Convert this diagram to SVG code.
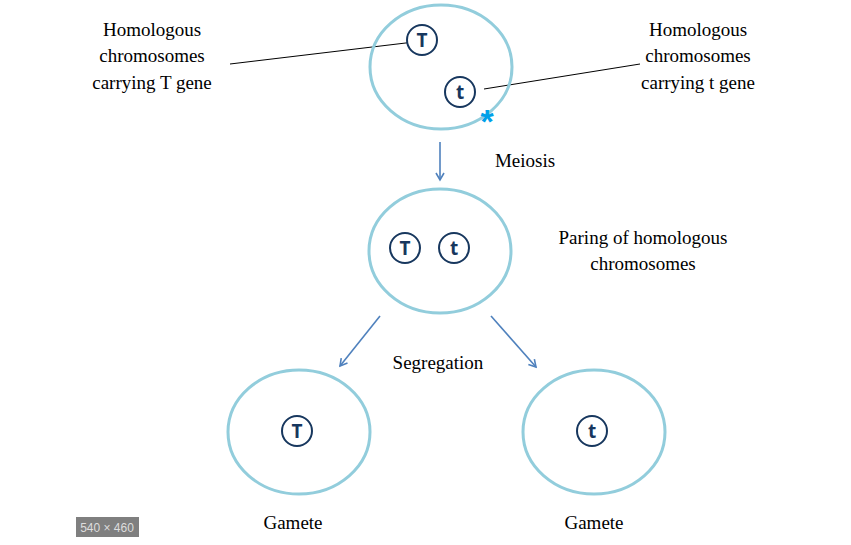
<svg xmlns="http://www.w3.org/2000/svg" width="851" height="545" viewBox="0 0 851 545">
<style>
.cell{fill:none;stroke:#92cddc;stroke-width:3}
.g{fill:#fff;stroke:#17375e;stroke-width:2}
.gl{font-family:"Open Sans","Liberation Sans",sans-serif;font-size:19px;font-weight:bold;fill:#17375e;text-anchor:middle}
.lb{font-family:"Liberation Serif",serif;font-size:19px;fill:#000;text-anchor:middle}
.ar{stroke:#4f81bd;stroke-width:1.6;fill:none}
</style>
<defs><marker id="a" markerWidth="10" markerHeight="10" refX="8" refY="5" orient="auto" markerUnits="userSpaceOnUse"><path d="M1,1 L8,5 L1,9" fill="none" stroke="#4f81bd" stroke-width="1.6"/></marker></defs>
<rect width="851" height="545" fill="#fff"/>
<g id="connectors">
<line x1="230" y1="64" x2="414" y2="42" stroke="#000" stroke-width="1"/>
<line x1="484" y1="89" x2="640" y2="64" stroke="#000" stroke-width="1"/>
<line class="ar" x1="440" y1="142" x2="440" y2="180" marker-end="url(#a)"/>
<line class="ar" x1="380" y1="316" x2="340" y2="366" marker-end="url(#a)"/>
<line class="ar" x1="491" y1="316" x2="536" y2="367" marker-end="url(#a)"/>
</g>
<g id="top"><ellipse class="cell" cx="441" cy="67" rx="71" ry="62"/>
<circle class="g" cx="422" cy="40" r="15"/><text class="gl" x="422" y="47">T</text>
<circle class="g" cx="460" cy="92" r="15"/><text class="gl" x="460" y="99">t</text>
<text x="487" y="133" font-family="Liberation Sans,sans-serif" font-size="34" font-weight="bold" fill="#00a0e9" text-anchor="middle">*</text></g>
<g id="labelT"><text class="lb" x="152" y="36">Homologous</text><text class="lb" x="152" y="62">chromosomes</text><text class="lb" x="152" y="89">carrying T gene</text></g>
<g id="labelt"><text class="lb" x="698" y="36">Homologous</text><text class="lb" x="698" y="62">chromosomes</text><text class="lb" x="698" y="89">carrying t gene</text></g>
<text class="lb" x="525" y="167">Meiosis</text>
<g id="mid"><ellipse class="cell" cx="440" cy="251" rx="71" ry="62"/>
<circle class="g" cx="405" cy="248" r="15"/><text class="gl" x="405" y="255">T</text>
<circle class="g" cx="454" cy="248" r="15"/><text class="gl" x="454" y="255">t</text></g>
<g id="labelP"><text class="lb" x="643" y="244">Paring of homologous</text><text class="lb" x="643" y="270">chromosomes</text></g>
<text class="lb" x="438" y="369">Segregation</text>
<g id="g1"><ellipse class="cell" cx="299" cy="432" rx="71" ry="62"/>
<circle class="g" cx="297" cy="431" r="15"/><text class="gl" x="297" y="438">T</text>
<text class="lb" x="293" y="529">Gamete</text></g>
<g id="g2"><ellipse class="cell" cx="594" cy="432" rx="71" ry="62"/>
<circle class="g" cx="592" cy="431" r="15"/><text class="gl" x="592" y="438">t</text>
<text class="lb" x="594" y="529">Gamete</text></g>
<rect x="76" y="517" width="63" height="20" fill="#7f7f7f"/>
<text x="107" y="532" font-family="Liberation Sans,sans-serif" font-size="12" fill="#ddd" text-anchor="middle">540 × 460</text>
</svg>
